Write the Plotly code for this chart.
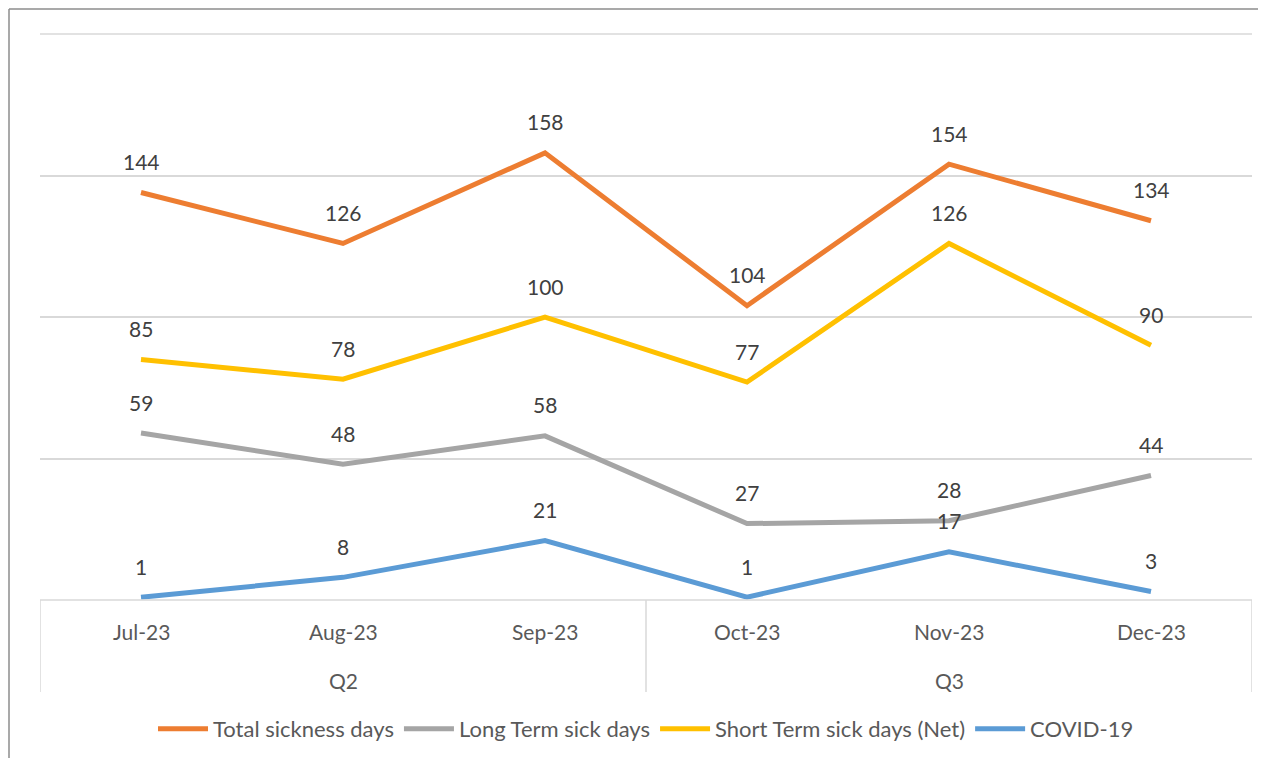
import plotly.graph_objects as go

months = ["Jul-23", "Aug-23", "Sep-23", "Oct-23", "Nov-23", "Dec-23"]
quarters = ["Q2", "Q2", "Q2", "Q3", "Q3", "Q3"]
total_sickness = [144, 126, 158, 104, 154, 134]
long_term = [59, 48, 58, 27, 28, 44]
short_term = [85, 78, 100, 77, 126, 90]
covid = [1, 8, 21, 1, 17, 3]

series = [
    ("Total sickness days", total_sickness, "#ED7D31"),
    ("Long Term sick days", long_term, "#A5A5A5"),
    ("Short Term sick days (Net)", short_term, "#FFC000"),
    ("COVID-19", covid, "#5B9BD5"),
]

FONT = "Lato, 'Open Sans', sans-serif"
FS = 21
OFF = 8  # page body margin (both sides)
W, H = 1266 - 2 * OFF, 766 - 2 * OFF
ML, MT = 40 - OFF, 34 - OFF
MR, MB = 14 - OFF, 166 - OFF
PW = W - ML - MR
PH = H - MT - MB

xs = list(range(len(months)))
fig = go.Figure()
annotations = []
for name, vals, col in series:
    fig.add_trace(go.Scatter(
        x=xs, y=vals, name=name, mode="lines",
        line=dict(color=col, width=5),
        hoverinfo="skip",
    ))
    for x, v in zip(xs, vals):
        annotations.append(dict(
            x=x, y=v, xref="x", yref="y", text=str(v), showarrow=False,
            yanchor="middle", yshift=31,
            font=dict(family=FONT, size=FS, color="#404040"),
        ))

# month labels
for x, m in zip(xs, months):
    annotations.append(dict(
        x=x, y=0, xref="x", yref="paper", text=m, showarrow=False,
        yanchor="middle", yshift=-31,
        font=dict(family=FONT, size=FS, color="#595959"),
    ))

# quarter groups
groups = []
for i, q in enumerate(quarters):
    if not groups or groups[-1][0] != q:
        groups.append([q, i, i])
    else:
        groups[-1][2] = i

sep_depth = -92 / PH
shapes = []
for q, a, b in groups:
    annotations.append(dict(
        x=(a + b) / 2, y=0, xref="x", yref="paper", text=q, showarrow=False,
        yanchor="middle", yshift=-80,
        font=dict(family=FONT, size=FS, color="#595959"),
    ))
bounds = [-0.5] + [b + 0.5 for _, _, b in groups]
for bx in bounds:
    shapes.append(dict(type="line", xref="x", yref="paper", x0=bx, x1=bx,
                       y0=0, y1=sep_depth, line=dict(color="#D9D9D9", width=1.5)))

# bottom axis line and top gridline
shapes.append(dict(type="line", xref="paper", yref="paper", x0=0, x1=1, y0=0, y1=0,
                   line=dict(color="#D9D9D9", width=1.5)))
shapes.append(dict(type="line", xref="paper", yref="paper", x0=0, x1=1, y0=1, y1=1,
                   line=dict(color="#D9D9D9", width=1.5), layer="below"))

# outer chart border: only the left and top edges are inside the picture
bx0 = (9 - 40) / PW
by1 = 1 + (MT - 1) / PH
fig_bottom = -MB / PH
fig_right = 1 + MR / PW
shapes.append(dict(type="line", xref="paper", yref="paper",
                   x0=bx0, x1=bx0, y0=fig_bottom, y1=by1,
                   line=dict(color="#8C8C8C", width=1.5), layer="below"))
shapes.append(dict(type="line", xref="paper", yref="paper",
                   x0=bx0, x1=fig_right, y0=by1, y1=by1,
                   line=dict(color="#8C8C8C", width=1.5), layer="below"))

fig.update_layout(
    width=W, height=H,
    margin=dict(l=ML, r=MR, t=MT, b=MB),
    paper_bgcolor="white", plot_bgcolor="white",
    font=dict(family=FONT, size=FS, color="#595959"),
    showlegend=True,
    legend=dict(orientation="h", x=0.5, xanchor="center",
                y=(600 - 729) / PH, yanchor="middle",
                font=dict(family=FONT, size=22, color="#595959"),
                itemwidth=50, traceorder="normal"),
    xaxis=dict(range=[-0.5, 5.5], showgrid=False, zeroline=False,
               showticklabels=False, showline=False, fixedrange=True),
    yaxis=dict(range=[0, 200], dtick=50, showgrid=True, gridcolor="#D9D9D9",
               gridwidth=1.5, zeroline=False, showticklabels=False,
               showline=False, fixedrange=True),
    annotations=annotations,
    shapes=shapes,
)

fig.write_html("out.html")
